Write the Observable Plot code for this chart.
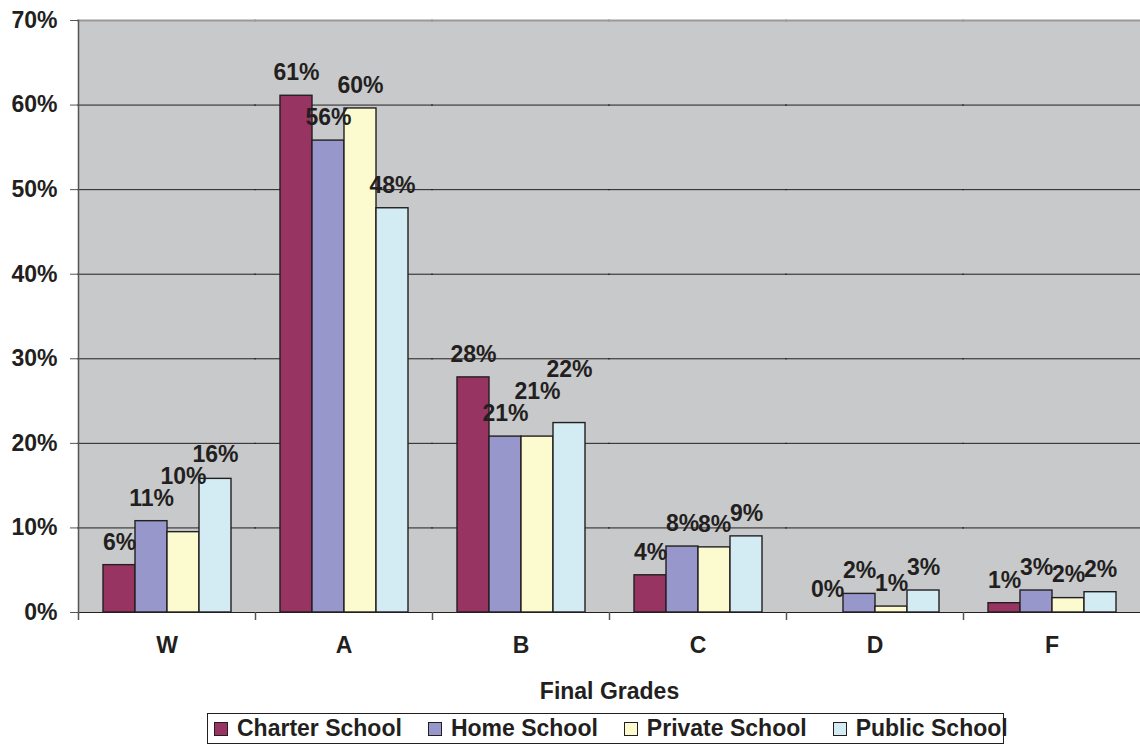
<!DOCTYPE html>
<html>
<head>
<meta charset="utf-8">
<script src="https://cdn.jsdelivr.net/npm/d3@7"></script>
<script src="https://cdn.jsdelivr.net/npm/@observablehq/plot@0.6"></script>
<style>
  body { margin: 0; background: #fff; font-family: "Liberation Sans", Arial, sans-serif; }
  #chart { position: absolute; left: 0; top: 0; }
  #legend {
    position: absolute; left: 207px; top: 713px; width: 797px; height: 31px;
    border: 1.5px solid #231f20; display: flex; align-items: center;
    padding-left: 6px; box-sizing: border-box; white-space: nowrap;
    font-size: 23px; font-weight: bold; color: #231f20;
  }
  #legend .item { display: flex; align-items: center; margin-right: 26px; }
  #legend .sw { width: 12px; height: 12px; border: 1.5px solid #231f20; margin-right: 9px; }
</style>
</head>
<body>
<div id="chart"></div>
<div id="legend"></div>
<script>
// ---- data ----
const grades = ["W", "A", "B", "C", "D", "F"];
const seriesNames = ["Charter School", "Home School", "Private School", "Public School"];
const charter = [5.6, 61.1, 27.8, 4.4, 0, 1.1];
const home    = [10.8, 55.8, 20.8, 7.8, 2.2, 2.6];
const privat  = [9.5, 59.6, 20.8, 7.7, 0.7, 1.7];
const publicS = [15.8, 47.8, 22.4, 9.0, 2.6, 2.4];
const yTicks = [0, 10, 20, 30, 40, 50, 60, 70];
const colors = ["#983462", "#9797cb", "#fcfacf", "#d3ecf3"];

const seriesValues = [charter, home, privat, publicS];

// long table
const data = [];
grades.forEach((g, gi) => {
  seriesNames.forEach((s, si) => {
    data.push({grade: g, series: s, value: seriesValues[si][gi], si});
  });
});

// layout constants
const W = 1140, H = 708, mTop = 20, mBottom = 96, mLeft = 78, mRight = 0;
const fontSize = 23;
const yMax = 70;
const plotH = H - mTop - mBottom;
const pxPerUnit = plotH / yMax;
const padOuter = 0.715;
const facetW = (W - mLeft - mRight) / grades.length;
// mirror of the inner band scale, used to find each facet's left edge
const inner = d3.scaleBand().domain(seriesNames).range([0, facetW]).paddingInner(0).paddingOuter(padOuter).round(true);
const step = inner.step();
const edgeDx = -(inner(seriesNames[0]) + inner.bandwidth() / 2);

// label layout: place above bars, nudge up where neighbouring labels collide
const labelW = v => (String(Math.round(v)).length * 0.556 + 0.889) * fontSize;
grades.forEach(g => {
  const rows = data.filter(d => d.grade === g);
  rows.forEach((d, i) => {
    d.label = Math.round(d.value) + "%";
    d.labelY = d.value + 23 / pxPerUnit;
    if (i > 0) {
      const p = rows[i - 1];
      const overlapX = (labelW(d.value) + labelW(p.value)) / 2 > step + 2;
      if (overlapX && Math.abs(d.labelY - p.labelY) * pxPerUnit < fontSize - 2) {
        d.labelY = p.labelY + (fontSize - 1) / pxPerUnit;
      }
    }
  });
});

const tickLen = 8;
const chart = Plot.plot({
  width: W,
  height: H,
  marginTop: mTop,
  marginBottom: mBottom,
  marginLeft: mLeft,
  marginRight: mRight,
  style: {fontFamily: '"Liberation Sans", Arial, sans-serif', fontWeight: "bold", fontSize: fontSize + "px", color: "#231f20", background: "#fff"},
  fx: {domain: grades, padding: 0},
  x: {domain: seriesNames, paddingInner: 0, paddingOuter: padOuter, axis: null},
  y: {domain: [0, yMax]},
  color: {domain: seriesNames, range: colors},
  marks: [
    Plot.frame({fill: "#c8c9cb", stroke: "none", facet: "super"}),
    Plot.ruleY(yTicks.filter(t => t > 0 && t < yMax), {stroke: "#231f20", strokeWidth: 1, insetLeft: -1, insetRight: -1}),
    Plot.ruleY([yMax], {stroke: "#999", strokeWidth: 2, insetLeft: -1, insetRight: -1}),
    Plot.barY(data, {fx: "grade", x: "series", y: "value", fill: "series", stroke: "#231f20", strokeWidth: 1.4}),
    Plot.ruleY([0], {stroke: "#231f20", strokeWidth: 1.2, insetLeft: -1, insetRight: -1}),
    // left value-axis line
    Plot.frame({anchor: "left", stroke: "#555", strokeWidth: 1.5, facet: "super"}),
    // category boundary ticks below the baseline (left edge of each facet band)
    Plot.ruleX([seriesNames[0]], {x: d => d, y1: 0, y2: -tickLen / pxPerUnit,
      dx: edgeDx, stroke: "#555", strokeWidth: 1.5}),
    Plot.text(data, {fx: "grade", x: "series", y: "labelY", text: "label", fill: "#231f20", fontSize: fontSize, fontWeight: "bold"}),
    Plot.axisY({ticks: yTicks, tickFormat: d => d + "%", tickSize: 8, tickPadding: 13, fontSize: fontSize, fontWeight: "bold", stroke: "#555"}),
    Plot.axisFx({anchor: "bottom", tickSize: 0, tickPadding: 24, fontSize: fontSize, fontWeight: "bold",
                 label: "Final Grades", labelAnchor: "center", labelOffset: 86})
  ]
});
document.getElementById("chart").appendChild(chart);

// legend
const leg = document.getElementById("legend");
seriesNames.forEach((s, i) => {
  const item = document.createElement("div");
  item.className = "item";
  const sw = document.createElement("div");
  sw.className = "sw";
  sw.style.background = colors[i];
  const t = document.createElement("span");
  t.textContent = s;
  item.appendChild(sw); item.appendChild(t);
  leg.appendChild(item);
});
</script>
</body>
</html>
